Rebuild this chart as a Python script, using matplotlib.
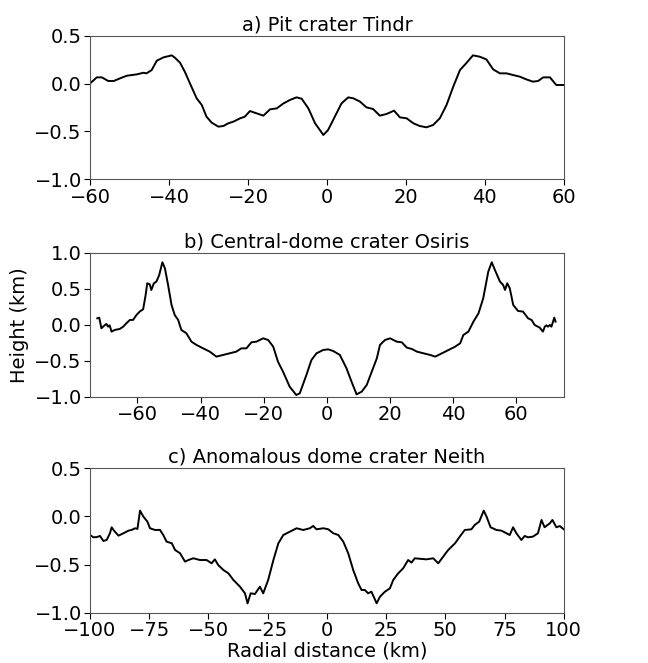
import matplotlib
matplotlib.use("Agg")
import matplotlib.pyplot as plt

# ---------------- Data ----------------
# a) Pit crater Tindr
tindr_x = [-60, -58.3, -57, -55.4, -54, -52.4, -50.7, -48.2, -46.5, -45.7, -44.4, -43.1,
           -41.4, -39.3, -38.5, -37.2, -36, -34.7, -33, -31.7, -30.5, -29.2, -27.5, -26.2,
           -25, -23.7, -22, -20.8, -19.5, -17.8, -16.1, -14.4, -12.7, -11, -9.4, -7.7,
           -6.4, -4.7, -3, -0.9, 0.3, 2, 3.7, 5.4, 6.7, 8.4, 10, 11.7, 13.4, 15.1, 17,
           18.5, 20.2, 21.9, 23.5, 25.2, 26.9, 28.6, 30.3, 32, 33.7, 35.4, 37, 38.7, 40.4,
           42.1, 43.8, 45.5, 47.2, 48.9, 50.5, 52.2, 53.5, 54.8, 56.5, 58.1, 60]
tindr_h = [0.002, 0.065, 0.065, 0.027, 0.027, 0.055, 0.082, 0.096, 0.113, 0.107, 0.141, 0.239,
           0.274, 0.295, 0.27, 0.218, 0.124, 0.002, -0.154, -0.224, -0.346, -0.408, -0.45, -0.443,
           -0.415, -0.398, -0.363, -0.346, -0.287, -0.311, -0.335, -0.269, -0.259, -0.207, -0.172, -0.144,
           -0.158, -0.259, -0.415, -0.537, -0.485, -0.346, -0.207, -0.144, -0.154, -0.189, -0.248, -0.266,
           -0.335, -0.318, -0.283, -0.353, -0.363, -0.415, -0.443, -0.457, -0.433, -0.363, -0.224, -0.033,
           0.141, 0.218, 0.295, 0.281, 0.253, 0.149, 0.107, 0.107, 0.089, 0.072, 0.044, 0.020,
           0.027, 0.065, 0.065, -0.015, -0.015]

# b) Central-dome crater Osiris
osiris_x = [-72.7, -72.1, -71.4, -70.3, -69.8, -69.3, -68.8, -68.2, -67.2, -65.6, -64.5, -63.5,
            -62.4, -61.4, -60.3, -59.3, -58.2, -57.4, -56.9, -56.1, -55.6, -54.8, -54, -53.1,
            -52.1, -51.3, -50.3, -49.2, -48.2, -47.1, -46.1, -44.5, -42.9, -41.3, -39.2, -37.1,
            -35, -32.9, -30.8, -28.7, -27.1, -25.5, -23.9, -22.3, -20.2, -18.6, -17, -15.5,
            -13.9, -11.8, -9.7, -8.6, -6.5, -4.9, -3.3, -1.2, 0.4, 2, 4.1, 6.2, 7.8, 9.4,
            11, 12.6, 14.2, 15.8, 16.8, 18.4, 20, 22.1, 23.7, 25.3, 26.9, 28.5, 30.6, 32.7,
            34.3, 36.4, 38.5, 40.6, 42.2, 43.2, 44.8, 46.4, 48, 49.5, 51.1, 52.2, 53.2, 54.8,
            55.8, 56.4, 57.1, 57.9, 59, 60.5, 62.1, 63.7, 64.8, 65.8, 67.4, 68.4, 69, 69.5,
            70, 70.6, 71.1, 72, 72.4]
osiris_h = [0.088, 0.097, -0.051, -0.005, 0.009, -0.028, -0.01, -0.097, -0.074, -0.06, -0.028, 0.019,
            0.065, 0.065, 0.134, 0.181, 0.213, 0.412, 0.574, 0.56, 0.481, 0.574, 0.597, 0.69,
            0.866, 0.782, 0.551, 0.273, 0.134, 0.065, -0.074, -0.12, -0.236, -0.282, -0.329, -0.375,
            -0.444, -0.421, -0.398, -0.375, -0.329, -0.329, -0.245, -0.236, -0.19, -0.213, -0.306, -0.514,
            -0.653, -0.861, -0.977, -0.954, -0.699, -0.491, -0.398, -0.352, -0.343, -0.366, -0.421, -0.606,
            -0.792, -0.968, -0.931, -0.838, -0.653, -0.468, -0.282, -0.213, -0.19, -0.236, -0.245, -0.319,
            -0.338, -0.375, -0.398, -0.421, -0.444, -0.398, -0.352, -0.306, -0.259, -0.144, -0.097, 0.042,
            0.157, 0.366, 0.736, 0.866, 0.759, 0.597, 0.551, 0.481, 0.574, 0.505, 0.273, 0.19,
            0.181, 0.088, 0.065, -0.005, -0.042, -0.097, -0.028, -0.01, -0.028, -0.005, -0.028, 0.097,
            0.042]

# c) Anomalous dome crater Neith
neith_x = [-100, -98.6, -97.2, -95.8, -94.4, -93, -91.6, -90.9, -89.9, -88, -85.9, -83.8,
           -82.4, -81, -80, -78.9, -77.5, -75.8, -74.7, -72.6, -70.5, -69.1, -67.7, -65.5,
           -64.1, -62, -59.9, -58.5, -56.4, -53.6, -50.8, -48.7, -47.3, -45.9, -43.7, -41.6,
           -39.5, -36.7, -34.6, -33.5, -32.2, -30.4, -28.3, -26.9, -24.8, -22.6, -20.5, -18.4,
           -15.6, -12.8, -10, -7.2, -5.8, -4.4, -1.5, 0.6, 2.7, 4.8, 6.9, 9, 11.1, 13.2,
           14.6, 16, 17.4, 18.8, 21, 22.4, 24.5, 26.6, 28, 30.1, 32.2, 34.3, 35.7, 37.1,
           39.2, 42, 44.9, 47, 49.1, 51.2, 54.1, 56.1, 58.2, 61, 62.4, 64.3, 66.2, 67.4,
           69.1, 71.6, 73.7, 75.8, 77.2, 78.6, 80, 82.1, 83.5, 84.9, 87, 89.1, 90.6, 91.9,
           94.1, 95.2, 96.9, 98.3, 100]
neith_h = [-0.193, -0.217, -0.215, -0.203, -0.255, -0.245, -0.175, -0.113, -0.148, -0.2, -0.175, -0.148,
           -0.14, -0.123, -0.13, 0.06, -0.002, -0.054, -0.123, -0.141, -0.14, -0.193, -0.262, -0.279,
           -0.349, -0.383, -0.47, -0.453, -0.435, -0.453, -0.453, -0.487, -0.446, -0.505, -0.557, -0.591,
           -0.66, -0.73, -0.799, -0.903, -0.799, -0.806, -0.73, -0.799, -0.66, -0.453, -0.279, -0.193,
           -0.158, -0.123, -0.141, -0.123, -0.099, -0.134, -0.123, -0.134, -0.175, -0.193, -0.262, -0.383,
           -0.557, -0.695, -0.764, -0.764, -0.799, -0.782, -0.903, -0.834, -0.782, -0.747, -0.66, -0.591,
           -0.539, -0.453, -0.48, -0.435, -0.44, -0.446, -0.435, -0.487, -0.418, -0.349, -0.279, -0.21,
           -0.141, -0.134, -0.089, -0.054, 0.06, -0.002, -0.113, -0.141, -0.148, -0.175, -0.193, -0.113,
           -0.175, -0.245, -0.203, -0.217, -0.21, -0.175, -0.037, -0.113, -0.072, -0.037, -0.113, -0.1,
           -0.134]

titles = ["a) Pit crater Tindr", "b) Central-dome crater Osiris", "c) Anomalous dome crater Neith"]
xlims = [(-60, 60), (-75, 75), (-100, 100)]
ylims = [(-1.0, 0.5), (-1.0, 1.0), (-1.0, 0.5)]
xticks = [[-60, -40, -20, 0, 20, 40, 60], [-60, -40, -20, 0, 20, 40, 60],
          [-100, -75, -50, -25, 0, 25, 50, 75, 100]]
yticks = [[-1.0, -0.5, 0.0, 0.5], [-1.0, -0.5, 0.0, 0.5, 1.0], [-1.0, -0.5, 0.0, 0.5]]

plt.rcParams['font.family'] = ['DejaVu Sans']
plt.rcParams['font.size'] = 14

fig = plt.figure(figsize=(6.48, 6.63), dpi=100)
boxes = [[0.139, 0.7296, 0.731, 0.2165],
         [0.139, 0.4017, 0.731, 0.2173],
         [0.139, 0.0759, 0.731, 0.2178]]
series = [(tindr_x, tindr_h), (osiris_x, osiris_h), (neith_x, neith_h)]
for i, (box, (x, h)) in enumerate(zip(boxes, series)):
    ax = fig.add_axes(box)
    ax.plot(x, h, color='black', linewidth=1.4)
    ax.set_xlim(*xlims[i])
    ax.set_ylim(*ylims[i])
    ax.set_xticks(xticks[i])
    ax.set_yticks(yticks[i])
    ax.set_title(titles[i], fontsize=14, pad=4)
    ax.tick_params(labelsize=14, length=4, pad=2)
    for s in ax.spines.values():
        s.set_color('#555555')
    if i == 1:
        ax.set_ylabel("Height (km)", fontsize=14)
    if i == 2:
        ax.set_xlabel("Radial distance (km)", fontsize=14, labelpad=1)

fig.savefig("out.png", dpi=100)
